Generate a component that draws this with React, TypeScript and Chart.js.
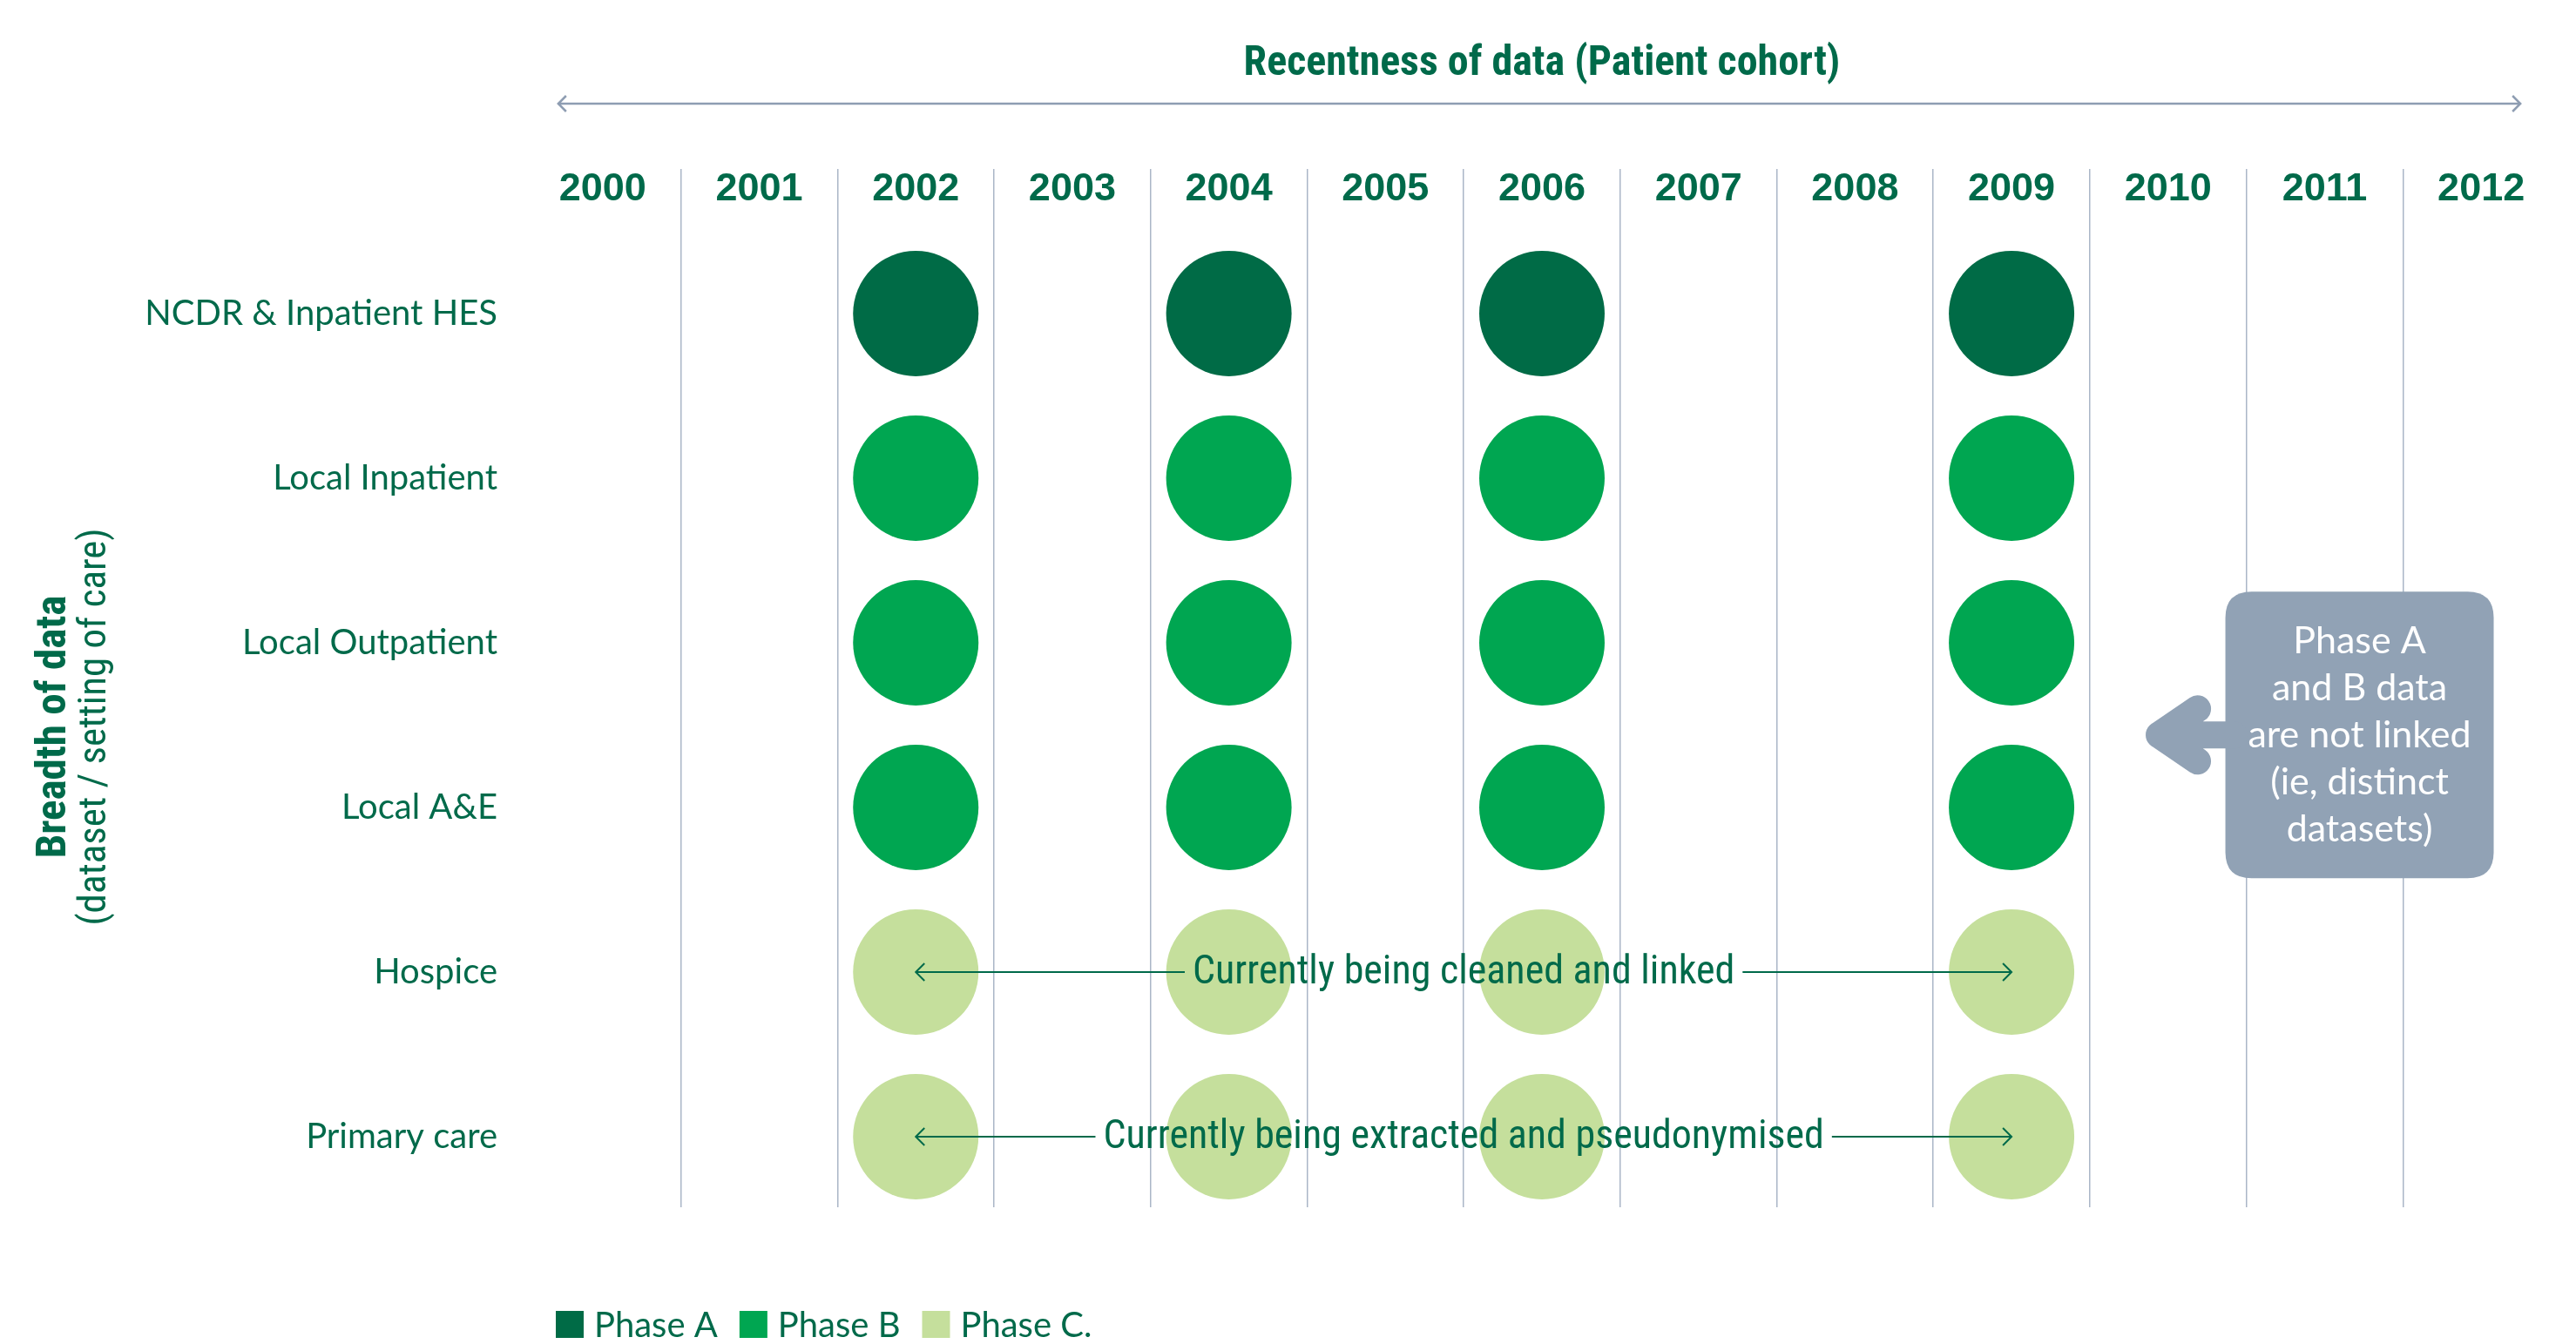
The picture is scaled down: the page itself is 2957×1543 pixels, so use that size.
import React, { useEffect, useRef } from 'react';
import { Chart, registerables } from 'chart.js';

Chart.register(...registerables);

// ---------- data ----------
const years = ['2000', '2001', '2002', '2003', '2004', '2005', '2006', '2007', '2008', '2009', '2010', '2011', '2012'];
const rowLabels = ['NCDR & Inpatient HES', 'Local Inpatient', 'Local Outpatient', 'Local A&E', 'Hospice', 'Primary care'];
const cohortYears = ['2002', '2004', '2006', '2009'];
const phaseNames = ['Phase A', 'Phase B', 'Phase C.'];
const phaseARows = [0];
const phaseBRows = [1, 2, 3];
const phaseCRows = [4, 5];
const xTitle = 'Recentness of data (Patient cohort)';
const yTitleMain = 'Breadth of data';
const yTitleSub = '(dataset / setting of care)';
const progressNotes = [
  { row: 4, from: '2002', to: '2009', text: 'Currently being cleaned and linked' },
  { row: 5, from: '2002', to: '2009', text: 'Currently being extracted and pseudonymised' },
];
const calloutLines = ['Phase A', 'and B data', 'are not linked', '(ie, distinct', 'datasets)'];

// ---------- styles ----------
const GREEN = '#006a4a';
const PHASE_COLORS = ['#006b46', '#00a651', '#c5df9c'];
const GRID = '#aab6c7';
const SLATE = '#91a2b5';
const CONDENSED = '"Roboto Condensed", "Liberation Sans Narrow", "Liberation Sans", sans-serif';
const ARIAL = '"Liberation Sans", Arial, sans-serif';
const SANS = 'Lato, "Open Sans", sans-serif';

const pointsFor = (rows: number[]) =>
  rows.flatMap((r) => cohortYears.map((y) => ({ x: y, y: r })));

const decorPlugin = {
  id: 'decor',
  afterDatasetsDraw(chart: any) {
    const ctx = chart.ctx;
    const xs = chart.scales.x;
    const ys = chart.scales.y;
    progressNotes.forEach((n) => {
      const y = ys.getPixelForValue(n.row);
      const x1 = xs.getPixelForValue(years.indexOf(n.from));
      const x2 = xs.getPixelForValue(years.indexOf(n.to));
      const mid = (x1 + x2) / 2;
      ctx.save();
      ctx.font = `46px ${CONDENSED}`;
      const w = ctx.measureText(n.text).width;
      ctx.strokeStyle = GREEN;
      ctx.lineWidth = 2;
      ctx.beginPath();
      ctx.moveTo(x1, y);
      ctx.lineTo(mid - w / 2 - 9, y);
      ctx.moveTo(mid + w / 2 + 9, y);
      ctx.lineTo(x2, y);
      ctx.moveTo(x1 + 10, y - 10);
      ctx.lineTo(x1, y);
      ctx.lineTo(x1 + 10, y + 10);
      ctx.moveTo(x2 - 10, y - 10);
      ctx.lineTo(x2, y);
      ctx.lineTo(x2 - 10, y + 10);
      ctx.stroke();
      ctx.fillStyle = GREEN;
      ctx.textAlign = 'center';
      ctx.textBaseline = 'middle';
      ctx.fillText(n.text, mid, y + 2);
      ctx.restore();
    });
  },
  afterDraw(chart: any) {
    const ctx = chart.ctx;
    const xs = chart.scales.x;
    const ys = chart.scales.y;
    const area = chart.chartArea;
    ctx.save();
    // top double-headed arrow
    const ay = 119;
    const ax1 = xs.getPixelForValue(0) - 51;
    const ax2 = xs.getPixelForValue(years.length - 1) + 45;
    ctx.strokeStyle = '#8e9db2';
    ctx.lineWidth = 2.5;
    ctx.beginPath();
    ctx.moveTo(ax1, ay);
    ctx.lineTo(ax2, ay);
    ctx.moveTo(ax1 + 9, ay - 9);
    ctx.lineTo(ax1, ay);
    ctx.lineTo(ax1 + 9, ay + 9);
    ctx.moveTo(ax2 - 9, ay - 9);
    ctx.lineTo(ax2, ay);
    ctx.lineTo(ax2 - 9, ay + 9);
    ctx.stroke();

    // y title (rotated)
    const cy = (ys.getPixelForValue(0) + ys.getPixelForValue(rowLabels.length - 1)) / 2 + 2;
    ctx.fillStyle = GREEN;
    ctx.textAlign = 'center';
    ctx.textBaseline = 'middle';
    ctx.save();
    ctx.translate(63, cy);
    ctx.rotate(-Math.PI / 2);
    ctx.font = `bold 49px ${CONDENSED}`;
    ctx.fillText(yTitleMain, 0, 0);
    ctx.restore();
    ctx.save();
    ctx.translate(110, cy);
    ctx.rotate(-Math.PI / 2);
    ctx.font = `45px ${CONDENSED}`;
    ctx.fillText(yTitleSub, 0, 0);
    ctx.restore();

    // callout box
    const colW = (xs.getPixelForValue(12) - xs.getPixelForValue(0)) / 12;
    const rowH = ys.getPixelForValue(1) - ys.getPixelForValue(0);
    const c11 = xs.getPixelForValue(11);
    const bl = c11 - 0.634 * colW;
    const br = c11 + 1.08 * colW;
    const bt = ys.getPixelForValue(2) - 0.31 * rowH;
    const bb = ys.getPixelForValue(3) + 0.43 * rowH;
    const r = 30;
    ctx.fillStyle = SLATE;
    ctx.beginPath();
    ctx.moveTo(bl + r, bt);
    ctx.lineTo(br - r, bt);
    ctx.quadraticCurveTo(br, bt, br, bt + r);
    ctx.lineTo(br, bb - r);
    ctx.quadraticCurveTo(br, bb, br - r, bb);
    ctx.lineTo(bl + r, bb);
    ctx.quadraticCurveTo(bl, bb, bl, bb - r);
    ctx.lineTo(bl, bt + r);
    ctx.quadraticCurveTo(bl, bt, bl + r, bt);
    ctx.closePath();
    ctx.fill();
    // callout arrow
    const tipY = ys.getPixelForValue(2) + 0.56 * rowH;
    const tipX = bl - 76;
    ctx.strokeStyle = SLATE;
    ctx.lineWidth = 31;
    ctx.lineCap = 'round';
    ctx.lineJoin = 'round';
    ctx.beginPath();
    ctx.moveTo(bl + 10, tipY);
    ctx.lineTo(tipX, tipY);
    ctx.moveTo(tipX + 44, tipY - 30);
    ctx.lineTo(tipX, tipY);
    ctx.lineTo(tipX + 44, tipY + 30);
    ctx.stroke();
    // callout text
    ctx.fillStyle = '#ffffff';
    ctx.font = `43px ${SANS}`;
    ctx.textAlign = 'center';
    ctx.textBaseline = 'middle';
    const tcx = (bl + br) / 2;
    const lh = 54;
    calloutLines.forEach((t, i) => {
      ctx.fillText(t, tcx, tipY + (i - (calloutLines.length - 1) / 2) * lh);
    });

    // legend
    let lx = area.left + 36;
    const ly = 1505;
    ctx.font = `40px ${SANS}`;
    ctx.textAlign = 'left';
    ctx.textBaseline = 'middle';
    phaseNames.forEach((name, i) => {
      ctx.fillStyle = PHASE_COLORS[i];
      ctx.fillRect(lx, ly, 32, 31);
      ctx.fillStyle = GREEN;
      ctx.fillText(name, lx + 44, ly + 17);
      lx += 44 + ctx.measureText(name).width + 25;
    });
    ctx.restore();
  },
};

export default function App() {
  const ref = useRef<HTMLCanvasElement>(null);
  useEffect(() => {
    const chart = new Chart(ref.current as HTMLCanvasElement, {
      type: 'scatter',
      data: {
        labels: years,
        datasets: [
          { label: phaseNames[0], data: pointsFor(phaseARows), backgroundColor: PHASE_COLORS[0] },
          { label: phaseNames[1], data: pointsFor(phaseBRows), backgroundColor: PHASE_COLORS[1] },
          { label: phaseNames[2], data: pointsFor(phaseCRows), backgroundColor: PHASE_COLORS[2] },
        ].map((d) => ({ ...d, pointRadius: 72, pointHoverRadius: 72, borderWidth: 0, pointBorderWidth: 0 })),
      } as any,
      options: {
        animation: false,
        responsive: true,
        maintainAspectRatio: false,
        events: [],
        layout: { autoPadding: false, padding: { left: 0, right: 19, top: 0, bottom: 157 } },
        plugins: {
          legend: { display: false },
          tooltip: { enabled: false },
          title: { display: false },
        },
        scales: {
          x: {
            type: 'category',
            position: 'top',
            offset: true,
            grid: {
              offset: true,
              drawTicks: true,
              tickLength: 38,
              lineWidth: 1.5,
              color: (c: any) => (c.type === 'tick' && c.index > 0 ? GRID : 'rgba(0,0,0,0)'),
            },
            border: { display: false },
            ticks: {
              font: { family: ARIAL, size: 45, weight: 'bold' },
              color: GREEN,
              padding: -51,
              maxRotation: 0,
              minRotation: 0,
              autoSkip: false,
            },
            title: {
              display: true,
              text: xTitle,
              color: GREEN,
              font: { family: CONDENSED, size: 48, weight: 'bold' },
              padding: { top: 45, bottom: 0 },
            },
            afterFit: (s: any) => {
              s.height = 232;
              s.paddingLeft = 0;
              s.paddingRight = 0;
            },
          },
          y: {
            type: 'linear',
            reverse: true,
            min: -0.677,
            max: 5.429,
            afterBuildTicks: (s: any) => {
              s.ticks = rowLabels.map((_, i) => ({ value: i }));
            },
            ticks: {
              callback: (v: any) => rowLabels[v as number],
              font: { family: SANS, size: 40 },
              color: GREEN,
              padding: 31,
              autoSkip: false,
            },
            grid: { display: false, drawTicks: false },
            border: { display: false },
            afterFit: (s: any) => {
              s.width = 602;
              s.paddingTop = 0;
              s.paddingBottom = 0;
            },
          },
        },
      } as any,
      plugins: [decorPlugin],
    });
    return () => chart.destroy();
  }, []);
  return (
    <div style={{ position: 'fixed', left: 0, top: 0, width: '2957px', height: '1543px', background: '#ffffff' }}>
      <canvas ref={ref} />
    </div>
  );
}
